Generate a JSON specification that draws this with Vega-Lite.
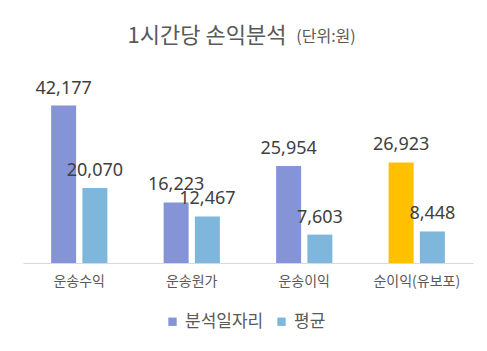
{
  "$schema": "https://vega.github.io/schema/vega-lite/v6.json",
  "width": 450,
  "height": 168,
  "autosize": {"type": "none"},
  "padding": {"left": 23, "top": 95, "right": 14, "bottom": 88},
  "background": "white",
  "title": {
    "text": "1시간당 손익분석",
    "subtitle": "(단위:원)",
    "anchor": "middle",
    "font": "Noto Sans CJK KR",
    "fontSize": 22,
    "fontWeight": "normal",
    "color": "#595959",
    "subtitleFont": "Noto Sans CJK KR",
    "subtitleFontSize": 16,
    "subtitleColor": "#595959",
    "offset": 32,
    "subtitlePadding": -19
  },
  "config": {
    "view": {"stroke": null},
    "style": {
      "group-title": {"dx": -41},
      "group-subtitle": {"dx": 78}
    }
  },
  "data": {
    "values": [
      {"category": "운송수익", "series": "분석일자리", "value": 42177},
      {"category": "운송수익", "series": "평균", "value": 20070},
      {"category": "운송원가", "series": "분석일자리", "value": 16223},
      {"category": "운송원가", "series": "평균", "value": 12467},
      {"category": "운송이익", "series": "분석일자리", "value": 25954},
      {"category": "운송이익", "series": "평균", "value": 7603},
      {"category": "순이익(유보포)", "series": "분석일자리", "value": 26923},
      {"category": "순이익(유보포)", "series": "평균", "value": 8448}
    ]
  },
  "encoding": {
    "x": {
      "field": "category",
      "type": "nominal",
      "sort": ["운송수익", "운송원가", "운송이익", "순이익(유보포)"],
      "scale": {"paddingInner": 0.5, "paddingOuter": 0.25},
      "axis": {
        "title": null,
        "labelAngle": 0,
        "domainColor": "#D9D9D9",
        "domainWidth": 1,
        "ticks": false,
        "labelFont": "Noto Sans CJK KR",
        "labelFontSize": 14,
        "labelColor": "#595959",
        "labelPadding": 11
      }
    },
    "xOffset": {
      "field": "series",
      "type": "nominal",
      "sort": ["분석일자리", "평균"],
      "scale": {"paddingInner": 0.2, "paddingOuter": 0}
    },
    "y": {
      "field": "value",
      "type": "quantitative",
      "scale": {"domain": [0, 45000]},
      "axis": null
    }
  },
  "layer": [
    {
      "mark": {"type": "bar"},
      "encoding": {
        "color": {
          "condition": {
            "test": "datum.category === '순이익(유보포)' && datum.series === '분석일자리'",
            "value": "#FFC000"
          },
          "field": "series",
          "type": "nominal",
          "sort": ["분석일자리", "평균"],
          "scale": {"domain": ["분석일자리", "평균"], "range": ["#8494D7", "#7EB7DB"]},
          "legend": {
            "orient": "none",
            "legendX": 141,
            "legendY": 218,
            "direction": "horizontal",
            "title": null,
            "symbolType": "square",
            "symbolSize": 70,
            "symbolStrokeWidth": 0,
            "labelFont": "Noto Sans CJK KR",
            "labelFontSize": 17,
            "labelColor": "#595959",
            "columnPadding": 9
          }
        }
      }
    },
    {
      "mark": {
        "type": "text",
        "baseline": "alphabetic",
        "dy": -12,
        "font": "Noto Sans",
        "fontSize": 18,
        "color": "#404040"
      },
      "encoding": {
        "text": {"field": "value", "type": "quantitative", "format": ","}
      }
    }
  ]
}
